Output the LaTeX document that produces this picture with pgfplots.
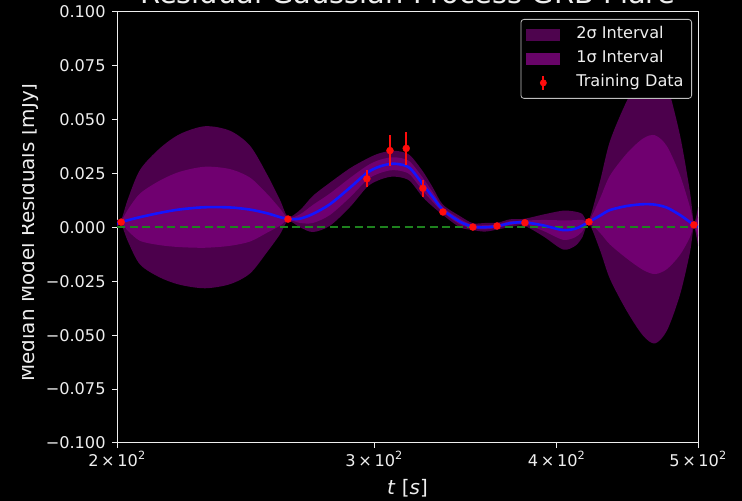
\documentclass[border=0pt]{standalone}
\usepackage{fontspec}
\setmainfont{DejaVu Sans}
\usepackage{pgfplots}
\usepackage{pgfplotstable}
\pgfplotsset{compat=1.18}
\usepgfplotslibrary{fillbetween}

\definecolor{bandtwo}{RGB}{76,0,76}
\definecolor{bandone}{RGB}{112,0,112}
\definecolor{legtwo}{RGB}{78,4,78}
\definecolor{legone}{RGB}{104,4,104}
\definecolor{medblue}{RGB}{20,20,255}
\definecolor{zerogreen}{RGB}{30,130,30}
\definecolor{ptred}{RGB}{255,12,12}
\definecolor{fg}{RGB}{238,238,238}

% GP posterior: time [s], median residual [mJy], standard deviation [mJy]
\pgfplotstableread{
t m s
200.0 0.0018 0.0010
201.3 0.0025 0.0005
203.5 0.0034 0.0050
207.4 0.0048 0.0110
214.0 0.0068 0.0150
220.9 0.0084 0.0175
229.8 0.0094 0.0188
239.0 0.0093 0.0178
246.7 0.0083 0.0148
253.4 0.0066 0.0090
258.6 0.0048 0.0040
261.9 0.0040 0.0005
266.9 0.0041 0.0020
272.4 0.0063 0.0042
279.8 0.0108 0.0050
288.8 0.0185 0.0045
296.6 0.0253 0.0033
301.8 0.0280 0.0031
307.6 0.0295 0.0030
312.5 0.0293 0.0030
317.5 0.0275 0.0030
324.0 0.0200 0.0030
329.2 0.0140 0.0022
334.4 0.0082 0.0012
343.5 0.0027 0.0013
350.6 0.0004 0.0008
357.3 0.0001 0.0010
364.8 0.0007 0.0008
371.7 0.0020 0.0009
380.0 0.0024 0.0008
391.6 0.0010 0.0025
404.1 -0.0012 0.0045
411.8 -0.0006 0.0040
416.4 0.0008 0.0028
421.0 0.0026 0.0005
428.4 0.0055 0.0080
435.2 0.0081 0.0160
447.1 0.0100 0.0245
458.5 0.0108 0.0305
467.2 0.0106 0.0322
476.1 0.0092 0.0285
486.0 0.0058 0.0185
493.7 0.0025 0.0070
496.8 0.0013 0.0005
500.0 0.0004 0.0045
}\gpmodel

% training data: time [s], residual [mJy], uncertainty [mJy]
\pgfplotstableread{
t y e
201.3 0.0025 0.0006
261.9 0.0039 0.0006
296.6 0.0226 0.0039
307.6 0.0357 0.0070
315.6 0.0367 0.0075
324.0 0.0182 0.0039
334.4 0.0072 0.0010
350.6 0.0002 0.0006
364.2 0.0007 0.0006
380.6 0.0022 0.0006
421.0 0.0026 0.0006
496.8 0.0012 0.0006
}\training

\pagecolor{black}

\begin{document}
\begin{tikzpicture}
\node[anchor=base, text=fg, font=\fontsize{29}{34}\selectfont] at (407.5bp,497bp) {Residual Gaussian Process GRB Flare};
\begin{axis}[
  at={(117bp,58bp)}, anchor=south west,
  width=581bp, height=431bp, scale only axis,
  xmode=log, xmin=200, xmax=500, ymin=-0.1, ymax=0.1,
  xtick={200,300,400,500},
  xticklabels={2\,×\,10\textsuperscript{2},3\,×\,10\textsuperscript{2},4\,×\,10\textsuperscript{2},5\,×\,10\textsuperscript{2}},
  minor xtick={},
  ytick={-0.1,-0.075,-0.05,-0.025,0,0.025,0.05,0.075,0.1},
  yticklabels={−0.100,−0.075,−0.050,−0.025,0.000,0.025,0.050,0.075,0.100},
  axis line style={fg, line width=1bp},
  every tick/.style={fg, line width=1bp},
  major tick length=5bp,
  tick align=outside,
  xtick pos=bottom, ytick pos=left,
  ticklabel style={text=fg, font=\fontsize{16.2}{19}\selectfont},
  yticklabel style={xshift=-3bp},
  xlabel={\textit{t} [\textit{s}]},
  every axis x label/.style={at={(axis description cs:0.5,-0.1206)}, anchor=base, text=fg, font=\fontsize{20}{24}\selectfont},
  legend cell align=left,
  legend style={at={(1,1)}, anchor=north east, xshift=-6bp, yshift=-7bp,
    fill=black, draw=fg!80!black, line width=0.8bp, rounded corners=3bp,
    text=fg, font=\fontsize{16.2}{19}\selectfont,
    inner xsep=5.5bp, inner ysep=5.5bp, row sep=4bp, column sep=13.5bp,
    nodes={inner sep=2.5bp, text height=11.5bp, text depth=3.5bp}},
]
% 2 sigma band
\addplot[name path=u2, draw=none, smooth, forget plot] table[x=t, y expr=\thisrow{m}+2*\thisrow{s}] {\gpmodel};
\addplot[name path=l2, draw=none, smooth, forget plot] table[x=t, y expr=\thisrow{m}-2*\thisrow{s}] {\gpmodel};
\addplot[fill=bandtwo, draw=none, forget plot] fill between[of=u2 and l2];
% 1 sigma band
\addplot[name path=u1, draw=none, smooth, forget plot] table[x=t, y expr=\thisrow{m}+\thisrow{s}] {\gpmodel};
\addplot[name path=l1, draw=none, smooth, forget plot] table[x=t, y expr=\thisrow{m}-\thisrow{s}] {\gpmodel};
\addplot[fill=bandone, draw=none, forget plot] fill between[of=u1 and l1];
% zero level
\addplot[zerogreen, line width=2bp, dash pattern=on 8bp off 4.5bp, forget plot] coordinates {(200,0) (500,0)};
% posterior median
\addplot[medblue, line width=2.6bp, smooth, forget plot] table[x=t, y=m] {\gpmodel};
% training points
\addplot[forget plot, ptred, only marks, mark=*, mark size=3.5bp, mark options={draw=ptred, fill=ptred},
  error bars/.cd, y dir=both, y explicit, error mark=none,
  error bar style={line width=1.8bp, ptred}]
  table[x=t, y=y, y error=e] {\training};

\addlegendimage{legend image code/.code={\fill[legtwo, sharp corners] (0bp,-5.5bp) rectangle (33bp,5.5bp);}}
\addlegendentry{2σ Interval}
\addlegendimage{legend image code/.code={\fill[legone, sharp corners] (0bp,-5.5bp) rectangle (33bp,5.5bp);}}
\addlegendentry{1σ Interval}
\addlegendimage{legend image code/.code={\draw[ptred, line width=1.8bp, sharp corners] (16.5bp,-7bp) -- (16.5bp,7bp); \fill[ptred] (16.5bp,0bp) circle (3bp);}}
\addlegendentry{Training Data}
\end{axis}
\begin{scope}
\clip (22.5bp,0bp) rectangle (742bp,501bp);
\node[rotate=90, anchor=base, text=fg, font=\fontsize{20}{24}\selectfont] at (34.3bp,268.5bp) {Median Model Residuals [mJy]};
\end{scope}
\pgfresetboundingbox
\useasboundingbox (0bp,0bp) rectangle (742bp,501bp);
\end{tikzpicture}
\end{document}
